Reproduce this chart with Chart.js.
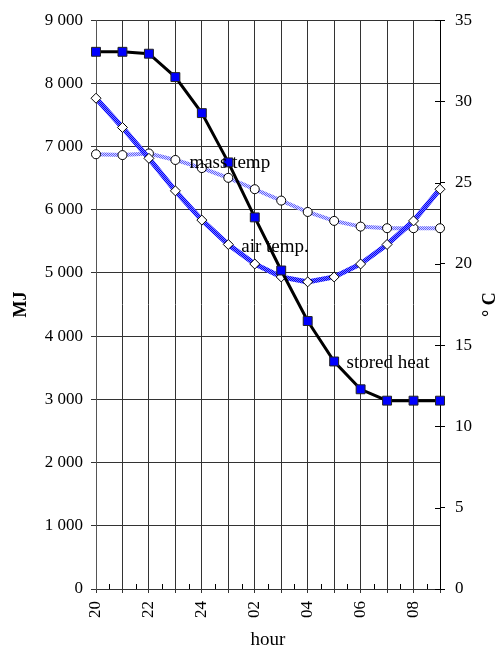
<!DOCTYPE html>
<html>
<head>
<meta charset="utf-8">
<script src="https://cdn.jsdelivr.net/npm/chart.js@4.4.0/dist/chart.umd.min.js"></script>
<style>
  html, body { margin: 0; padding: 0; background: #fff; }
  #wrap { width: 498px; height: 648px; }
</style>
</head>
<body>
<div id="wrap"><canvas id="c" width="498" height="648"></canvas></div>
<script>
// Night cooling: stored heat in the building mass and temperatures, hour by hour
const hours = ['20', '21', '22', '23', '24', '01', '02', '03', '04', '05', '06', '07', '08', '09'];
const storedHeat = [8500, 8500, 8470, 8100, 7530, 6750, 5880, 5040, 4240, 3600, 3160, 2980, 2980, 2980]; // MJ
const airTemp = [30.2, 28.4, 26.5, 24.5, 22.7, 21.2, 20.0, 19.2, 18.9, 19.2, 20.0, 21.2, 22.65, 24.6]; // °C
const massTemp = [26.75, 26.7, 26.8, 26.4, 25.9, 25.3, 24.6, 23.9, 23.2, 22.65, 22.3, 22.2, 22.2, 22.2]; // °C

const mjTicks = { min: 0, max: 9000, step: 1000 };
const tempTicks = { min: 0, max: 35, step: 5 };

// Series captions placed in data units (hour index, MJ)
const captions = [
  { text: 'mass temp', hourIndex: 3.53, mj: 6747 },
  { text: 'air temp.', hourIndex: 5.49, mj: 5405 },
  { text: 'stored heat', hourIndex: 9.47, mj: 3569 }
];

const SERIF = "'Liberation Serif', 'DejaVu Serif', serif";

// Dotted blue fills used for the two temperature lines
function makePattern(dark, light) {
  const p = document.createElement('canvas');
  p.width = 2; p.height = 2;
  const g = p.getContext('2d');
  g.fillStyle = light; g.fillRect(0, 0, 2, 2);
  g.fillStyle = dark; g.fillRect(0, 0, 1, 1); g.fillRect(1, 1, 1, 1);
  return g.createPattern(p, 'repeat');
}
const ctx = document.getElementById('c').getContext('2d');
const airPattern = makePattern('#0000ff', '#7a7aff');
const massPattern = makePattern('#6060ff', '#d8d8ff');

function spaced(v) {
  return String(v).replace(/\B(?=(\d{3})+(?!\d))/g, ' ');
}

const extras = {
  id: 'extras',
  afterDatasetsDraw(chart) {
    const c = chart.ctx;
    const x = chart.scales.x, y = chart.scales.y, y1 = chart.scales.y1;
    const area = chart.chartArea;
    c.save();
    // half-hour minor ticks on the hour axis
    c.strokeStyle = '#000';
    c.lineWidth = 1;
    for (let i = 0; i < hours.length - 1; i++) {
      const xm = Math.round((x.getPixelForValue(i) + x.getPixelForValue(i + 1)) / 2) + 0.5;
      c.beginPath();
      c.moveTo(xm, area.bottom);
      c.lineTo(xm, area.bottom - 5);
      c.stroke();
    }
    // inner half of the crossing ticks on the temperature axis
    for (let v = tempTicks.min; v <= tempTicks.max; v += tempTicks.step) {
      const yp = Math.round(y1.getPixelForValue(v)) + 0.5;
      c.beginPath();
      c.moveTo(area.right - 5, yp);
      c.lineTo(area.right, yp);
      c.stroke();
    }
    // series captions
    c.fillStyle = '#000';
    c.font = '19px ' + SERIF;
    c.textAlign = 'left';
    c.textBaseline = 'middle';
    captions.forEach(cp => {
      c.fillText(cp.text, x.getPixelForValue(cp.hourIndex), y.getPixelForValue(cp.mj));
    });
    // right axis title, reading upwards
    c.font = 'bold 18px ' + SERIF;
    c.textAlign = 'center';
    c.translate(490, (area.top + area.bottom) / 2);
    c.rotate(-Math.PI / 2);
    c.fillText('° C', 0, 0);
    c.restore();
  }
};

new Chart(ctx, {
  type: 'line',
  data: {
    labels: hours,
    datasets: [
      {
        label: 'stored heat',
        data: storedHeat,
        yAxisID: 'y',
        borderColor: '#000',
        borderWidth: 3,
        pointStyle: 'rect',
        pointRadius: 6.3,
        pointBackgroundColor: '#0000ff',
        pointBorderColor: '#222',
        pointBorderWidth: 1,
        tension: 0,
        order: 0
      },
      {
        label: 'air temp.',
        data: airTemp,
        yAxisID: 'y1',
        borderColor: airPattern,
        borderWidth: 5,
        pointStyle: 'rectRot',
        pointRadius: 5,
        pointBackgroundColor: '#fff',
        pointBorderColor: '#000',
        pointBorderWidth: 1,
        tension: 0,
        order: 1
      },
      {
        label: 'mass temp',
        data: massTemp,
        yAxisID: 'y1',
        borderColor: massPattern,
        borderWidth: 4,
        pointStyle: 'circle',
        pointRadius: 4.5,
        pointBackgroundColor: '#fff',
        pointBorderColor: '#000',
        pointBorderWidth: 1,
        tension: 0,
        order: 2
      }
    ]
  },
  options: {
    responsive: false,
    animation: false,
    devicePixelRatio: 1,
    layout: { padding: { top: 19, left: 0, right: 0, bottom: 0 } },
    plugins: { legend: { display: false }, tooltip: { enabled: false } },
    font: { family: SERIF },
    scales: {
      x: {
        type: 'category',
        offset: false,
        grid: { color: '#333', lineWidth: 1, tickLength: 4 },
        border: { color: '#333', width: 1 },
        ticks: {
          autoSkip: false,
          maxRotation: 90,
          minRotation: 90,
          padding: 8,
          color: '#000',
          font: { family: SERIF, size: 17 },
          callback: function (val, idx) { return idx % 2 === 0 ? hours[idx] : ''; }
        },
        title: {
          display: true, text: 'hour', color: '#000',
          font: { family: SERIF, size: 19, lineHeight: 1 },
          padding: { top: 0, bottom: -2 }
        },
        afterFit(s) { s.height = 59; }
      },
      y: {
        position: 'left',
        min: mjTicks.min, max: mjTicks.max,
        grid: { color: '#333', lineWidth: 1, tickLength: 5 },
        border: { color: '#555', width: 1 },
        ticks: {
          stepSize: mjTicks.step,
          padding: 8,
          color: '#000',
          font: { family: SERIF, size: 17 },
          callback: v => spaced(v)
        },
        title: {
          display: true, text: 'MJ', color: '#000',
          font: { family: SERIF, size: 18, weight: 'bold', lineHeight: 1.2 },
          padding: { top: 11, bottom: 0 }
        },
        afterFit(s) { s.width = 96; }
      },
      y1: {
        position: 'right',
        min: tempTicks.min, max: tempTicks.max,
        grid: { drawOnChartArea: false, color: '#000', tickLength: 5 },
        border: { color: '#000', width: 1 },
        ticks: {
          stepSize: tempTicks.step,
          padding: 10,
          color: '#000',
          font: { family: SERIF, size: 17 }
        },
        afterFit(s) { s.width = 58; }
      }
    }
  },
  plugins: [extras]
});
</script>
</body>
</html>
